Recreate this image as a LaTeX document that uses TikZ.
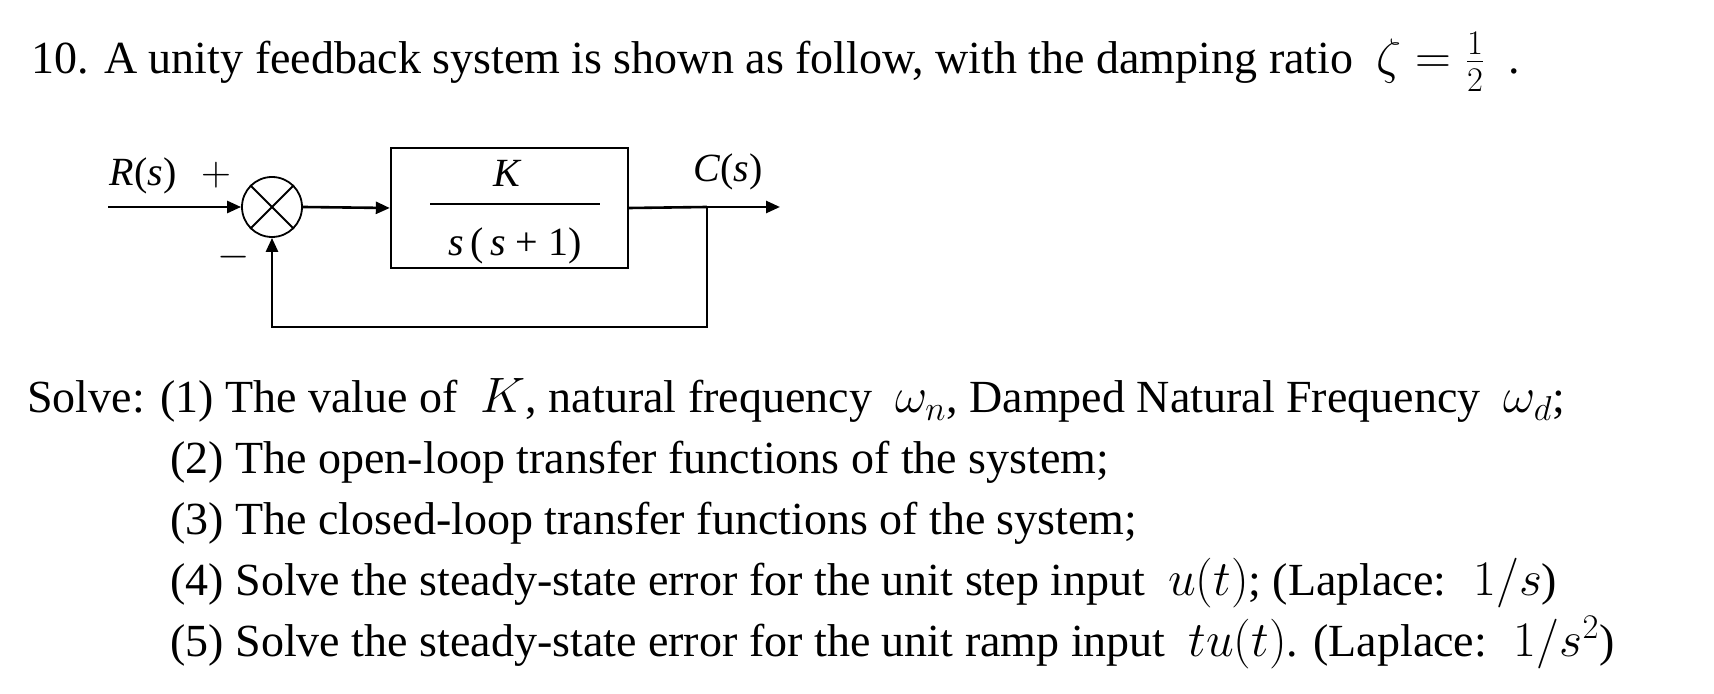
\documentclass[tikz,border=0pt]{standalone}
\usepackage{fontspec}
\setmainfont{Liberation Serif}
\usetikzlibrary{arrows.meta}
\begin{document}
\begin{tikzpicture}[x=0.5pt,y=-0.5pt,
  txt/.style={anchor=base west,inner sep=0pt,font=\fontsize{23}{27}\selectfont},
  lbl/.style={inner sep=0pt,font=\fontsize{20}{23}\selectfont},
  wire/.style={line width=1.3pt},
  arr/.style={wire,-{Triangle[length=7pt,width=6pt]}}]
\useasboundingbox (0,0) rectangle (1714,694);
\node[txt] (t0) at (31,74) {10. A unity feedback system is shown as follow, with the damping ratio \ $\zeta=\frac{1}{2}$\ \ .};
% diagram
\coordinate (in) at (108,207);
\node[circle,draw,line width=0.9pt,minimum size=30pt,inner sep=0pt] (sum) at (272,207) {};
\draw[line width=0.9pt] (sum.north west)--(sum.south east) (sum.north east)--(sum.south west);
\node[draw,line width=1.2pt,minimum width=118.5pt,minimum height=60pt,inner sep=0pt] (blk) at (509.5,208) {};
\draw[line width=1pt] (430,204)--(600,204);
\node[lbl] (K) at (508,173) {\textit{K}};
\node[lbl] (den) at (515,246) {\textit{s}\,(\,\textit{s} + 1)};
\coordinate (br) at (707,207);
\coordinate (out) at (780,207);
\coordinate (fb) at (707,327);
\coordinate (fb2) at (272,327);
\draw[arr] (in)--(sum.west);
\draw[arr] (sum.east)--(blk.west);
\draw[wire] (blk.east)--(br);
\draw[arr] (br)--(out);
\draw[arr] (br)--(fb)--(fb2)--(sum.south);
\node[lbl] (R) at (143,176) {\textit{R}(\textit{s})};
\node[lbl] (plus) at (216,175) {$+$};
\node[lbl] (minus) at (234,257) {$-$};
\node[lbl] (C) at (728,172) {\textit{C}(\textit{s})};
% questions
\node[txt] (q1) at (27,413) {Solve: (1) The value of \ $K$, natural frequency \ $\omega_n$, Damped Natural Frequency \ $\omega_d$;};
\node[txt] (q2) at (170,474) {(2) The open-loop transfer functions of the system;};
\node[txt] (q3) at (170,535) {(3) The closed-loop transfer functions of the system;};
\node[txt] (q4) at (170,596) {(4) Solve the steady-state error for the unit step input \ $u(t)$; (Laplace: \ $1/s$)};
\node[txt] (q5) at (170,657) {(5) Solve the steady-state error for the unit ramp input \ $tu(t)$. (Laplace: \ $1/s^2$)};
\end{tikzpicture}
\end{document}
